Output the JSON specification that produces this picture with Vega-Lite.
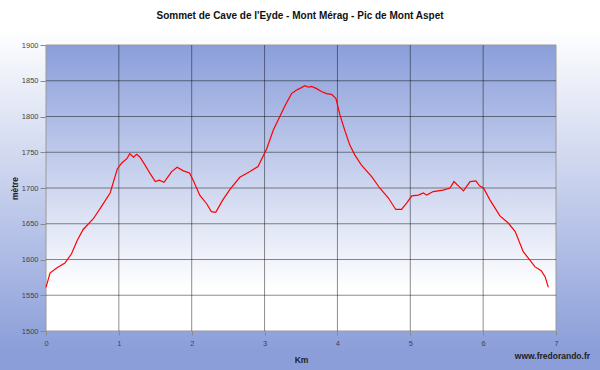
{
  "$schema": "https://vega.github.io/schema/vega-lite/v6.json",
  "width": 600,
  "height": 370,
  "autosize": {"type": "none"},
  "padding": 0,
  "background": "#ffffff",
  "config": {
    "font": "Liberation Sans",
    "view": {
      "stroke": null,
      "fill": {"gradient": "linear", "x1": 0, "y1": 0, "x2": 0, "y2": 1,
        "stops": [{"offset": 0, "color": "#ffffff"}, {"offset": 0.08, "color": "#ffffff"}, {"offset": 0.95, "color": "#8b9ed9"}, {"offset": 1, "color": "#8b9ed9"}]}
    },
    "axisX": {"offset": -39, "domain": false, "grid": false, "tickSize": 4, "tickColor": "#888888",
      "labelFontSize": 7.5, "labelColor": "#444444", "labelPadding": 4, "labelFlush": false, "labelOverlap": false,
      "titleFontSize": 8.5, "titleFontWeight": "bold", "titleColor": "#222222", "titleX": 301, "titleY": 28, "titleBaseline": "middle"},
    "axisY": {"offset": -46, "domain": false, "grid": false, "tickSize": 6, "tickColor": "#888888",
      "labelFontSize": 7.5, "labelColor": "#444444", "labelPadding": 2, "labelFlush": false, "labelOverlap": false,
      "titleFontSize": 8.5, "titleFontWeight": "bold", "titleColor": "#222222", "titleX": -32, "titleY": 188, "titleBaseline": "middle"}
  },
  "title": {"text": "Sommet de Cave de l'Eyde - Mont Mérag - Pic de Mont Aspet", "frame": "group", "anchor": "middle", "offset": -21, "fontSize": 10, "fontWeight": "bold", "color": "#111111"},
  "datasets": {
    "profile": [
      {"km": 0, "alt": 1561}, {"km": 0.055, "alt": 1581}, {"km": 0.146, "alt": 1588}, {"km": 0.26, "alt": 1595},
      {"km": 0.35, "alt": 1608}, {"km": 0.43, "alt": 1627}, {"km": 0.51, "alt": 1642}, {"km": 0.65, "alt": 1657},
      {"km": 0.76, "alt": 1674}, {"km": 0.88, "alt": 1693}, {"km": 0.98, "alt": 1727}, {"km": 1.04, "alt": 1735},
      {"km": 1.11, "alt": 1741}, {"km": 1.15, "alt": 1748}, {"km": 1.2, "alt": 1743}, {"km": 1.245, "alt": 1747},
      {"km": 1.29, "alt": 1743}, {"km": 1.36, "alt": 1732}, {"km": 1.43, "alt": 1720}, {"km": 1.5, "alt": 1709},
      {"km": 1.555, "alt": 1711}, {"km": 1.62, "alt": 1708}, {"km": 1.725, "alt": 1723}, {"km": 1.8, "alt": 1729},
      {"km": 1.885, "alt": 1724}, {"km": 1.97, "alt": 1721}, {"km": 2.02, "alt": 1711}, {"km": 2.11, "alt": 1690},
      {"km": 2.205, "alt": 1678}, {"km": 2.27, "alt": 1667}, {"km": 2.33, "alt": 1666}, {"km": 2.425, "alt": 1683},
      {"km": 2.525, "alt": 1698}, {"km": 2.66, "alt": 1715}, {"km": 2.8, "alt": 1723}, {"km": 2.91, "alt": 1730},
      {"km": 3.03, "alt": 1755}, {"km": 3.12, "alt": 1781}, {"km": 3.21, "alt": 1800}, {"km": 3.28, "alt": 1815},
      {"km": 3.37, "alt": 1832}, {"km": 3.44, "alt": 1837}, {"km": 3.48, "alt": 1839}, {"km": 3.555, "alt": 1843},
      {"km": 3.6, "alt": 1841}, {"km": 3.646, "alt": 1842}, {"km": 3.715, "alt": 1839}, {"km": 3.78, "alt": 1835},
      {"km": 3.85, "alt": 1832}, {"km": 3.92, "alt": 1831}, {"km": 3.98, "alt": 1825}, {"km": 4.035, "alt": 1802},
      {"km": 4.1, "alt": 1781}, {"km": 4.17, "alt": 1760}, {"km": 4.24, "alt": 1746}, {"km": 4.33, "alt": 1732},
      {"km": 4.47, "alt": 1716}, {"km": 4.58, "alt": 1700}, {"km": 4.7, "alt": 1686}, {"km": 4.8, "alt": 1670},
      {"km": 4.88, "alt": 1670}, {"km": 4.95, "alt": 1679}, {"km": 5.02, "alt": 1689}, {"km": 5.11, "alt": 1690},
      {"km": 5.18, "alt": 1693}, {"km": 5.225, "alt": 1690}, {"km": 5.315, "alt": 1695}, {"km": 5.45, "alt": 1697},
      {"km": 5.545, "alt": 1700}, {"km": 5.6, "alt": 1709}, {"km": 5.66, "alt": 1703}, {"km": 5.73, "alt": 1696},
      {"km": 5.82, "alt": 1709}, {"km": 5.9, "alt": 1710}, {"km": 5.95, "alt": 1703}, {"km": 6.005, "alt": 1700},
      {"km": 6.095, "alt": 1683}, {"km": 6.23, "alt": 1661}, {"km": 6.345, "alt": 1651}, {"km": 6.44, "alt": 1639},
      {"km": 6.55, "alt": 1611}, {"km": 6.62, "alt": 1602}, {"km": 6.71, "alt": 1590}, {"km": 6.8, "alt": 1584},
      {"km": 6.85, "alt": 1576}, {"km": 6.895, "alt": 1561}
    ],
    "hgrid": [{"m": 1550}, {"m": 1600}, {"m": 1650}, {"m": 1700}, {"m": 1750}, {"m": 1800}, {"m": 1850}],
    "vgrid": [{"k": 1}, {"k": 2}, {"k": 3}, {"k": 4}, {"k": 5}, {"k": 6}],
    "credit": [{"label": "www.fredorando.fr"}]
  },
  "layer": [
    {
      "data": {"values": [{}]},
      "mark": {"type": "rect", "stroke": "#9a9a9a", "strokeWidth": 1,
        "fill": {"gradient": "linear", "x1": 0, "y1": 0, "x2": 0, "y2": 1,
          "stops": [{"offset": 0, "color": "#8a9eda"}, {"offset": 0.85, "color": "#ffffff"}, {"offset": 1, "color": "#ffffff"}]}},
      "encoding": {
        "x": {"datum": 0, "type": "quantitative", "scale": {"domain": [-0.6314, 7.6039], "nice": false, "zero": false}, "title": "Km",
          "axis": {"values": [0, 1, 2, 3, 4, 5, 6, 7], "format": "d"}},
        "x2": {"datum": 7},
        "y": {"datum": 1500, "type": "quantitative", "scale": {"domain": [1445.455, 1962.937], "nice": false, "zero": false}, "title": "mètre",
          "axis": {"values": [1500, 1550, 1600, 1650, 1700, 1750, 1800, 1850, 1900], "format": "d"}},
        "y2": {"datum": 1900}
      }
    },
    {
      "data": {"name": "hgrid"},
      "mark": {"type": "rule", "color": "#000000", "opacity": 0.45, "strokeWidth": 1},
      "encoding": {
        "y": {"field": "m", "type": "quantitative", "scale": {"domain": [1445.455, 1962.937], "nice": false, "zero": false}, "title": "mètre",
          "axis": {"values": [1500, 1550, 1600, 1650, 1700, 1750, 1800, 1850, 1900], "format": "d"}},
        "x": {"datum": 0, "type": "quantitative", "scale": {"domain": [-0.6314, 7.6039], "nice": false, "zero": false}, "title": "Km",
          "axis": {"values": [0, 1, 2, 3, 4, 5, 6, 7], "format": "d"}},
        "x2": {"datum": 7}
      }
    },
    {
      "data": {"name": "vgrid"},
      "mark": {"type": "rule", "color": "#000000", "opacity": 0.45, "strokeWidth": 1},
      "encoding": {
        "x": {"field": "k", "type": "quantitative", "scale": {"domain": [-0.6314, 7.6039], "nice": false, "zero": false}, "title": "Km",
          "axis": {"values": [0, 1, 2, 3, 4, 5, 6, 7], "format": "d"}},
        "y": {"datum": 1500, "type": "quantitative", "scale": {"domain": [1445.455, 1962.937], "nice": false, "zero": false}, "title": "mètre",
          "axis": {"values": [1500, 1550, 1600, 1650, 1700, 1750, 1800, 1850, 1900], "format": "d"}},
        "y2": {"datum": 1900}
      }
    },
    {
      "data": {"name": "profile"},
      "mark": {"type": "line", "color": "#ff0000", "strokeWidth": 1.2},
      "encoding": {
        "x": {"field": "km", "type": "quantitative", "scale": {"domain": [-0.6314, 7.6039], "nice": false, "zero": false}, "title": "Km",
          "axis": {"values": [0, 1, 2, 3, 4, 5, 6, 7], "format": "d"}},
        "y": {"field": "alt", "type": "quantitative", "scale": {"domain": [1445.455, 1962.937], "nice": false, "zero": false}, "title": "mètre",
          "axis": {"values": [1500, 1550, 1600, 1650, 1700, 1750, 1800, 1850, 1900], "format": "d"}}
      }
    },
    {
      "data": {"name": "credit"},
      "mark": {"type": "text", "align": "right", "baseline": "middle", "fontSize": 8.5, "fontWeight": "bold", "color": "#222222"},
      "encoding": {
        "text": {"field": "label"},
        "x": {"datum": 7.467, "type": "quantitative", "scale": {"domain": [-0.6314, 7.6039], "nice": false, "zero": false}, "title": "Km",
          "axis": {"values": [0, 1, 2, 3, 4, 5, 6, 7], "format": "d"}},
        "y": {"datum": 1465, "type": "quantitative", "scale": {"domain": [1445.455, 1962.937], "nice": false, "zero": false}, "title": "mètre",
          "axis": {"values": [1500, 1550, 1600, 1650, 1700, 1750, 1800, 1850, 1900], "format": "d"}}
      }
    }
  ]
}
